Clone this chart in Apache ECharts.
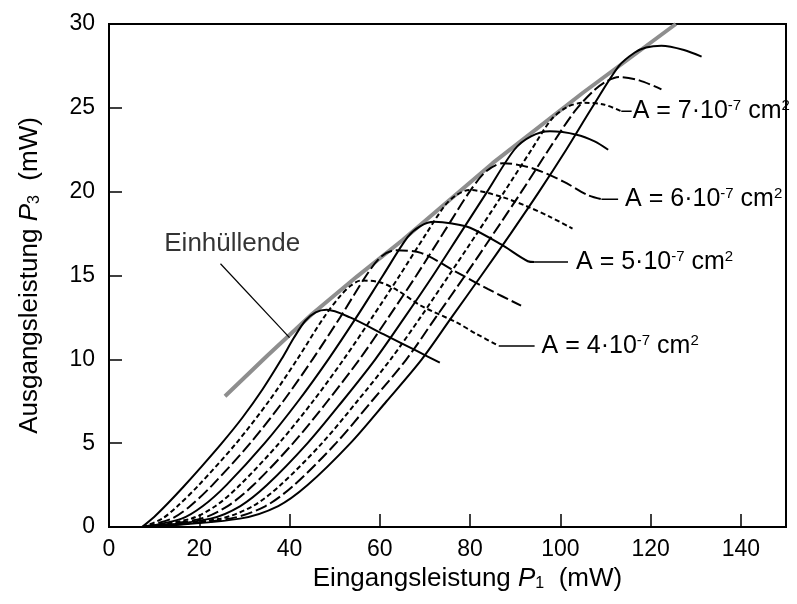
<!DOCTYPE html>
<html>
<head>
<meta charset="utf-8">
<script src="https://cdn.jsdelivr.net/npm/echarts@6/dist/echarts.min.js"></script>
<style>
  html, body { margin: 0; padding: 0; background: #fff; }
  #chart { width: 797px; height: 604px; }
</style>
</head>
<body>
<div id="chart"></div>
<script>
const FONT = '"Liberation Sans", Arial, sans-serif';

// Kennlinien, von links nach rechts (x = P1 in mW, y = P3 in mW)
const curve1 = [[7.3,0],[10,0.6],[13,1.4],[16.5,2.4],[20.5,3.6],[25,5],[29.5,6.5],[34,8.2],[38.2,10],[41,11.3],[43.5,12.3],[45.8,12.8],[48.2,12.95],[53.4,12.5],[60.8,11.5],[68.2,10.5],[73.3,9.8]];
const curve2 = [[7.4,0],[11.8,0.5],[15.2,1.25],[19.9,2.5],[28.2,5],[35.4,7.5],[41.7,10],[47.6,12.5],[51.3,13.8],[53.6,14.4],[55.8,14.7],[60,14.6],[64,14.1],[69.1,13.2],[77,12.2],[81.5,11.5],[86.4,10.8]];
const curve3 = [[7.5,0],[13.9,0.5],[18,1.25],[22.9,2.5],[31.3,5],[38.6,7.5],[45.1,10],[51.2,12.5],[57,15],[60.2,16.1],[63.2,16.5],[69.1,16.35],[77,15.2],[83.9,14.2],[91.3,13.2]];
const curve4 = [[7.6,0],[16.1,0.5],[20.8,1.25],[26,2.5],[34.5,5],[41.9,7.5],[48.6,10],[54.8,12.5],[60.7,15],[66.2,17.3],[69,17.95],[72.1,18.2],[76,18.1],[80,17.85],[86.9,16.85],[92.8,15.85],[94.3,15.8]];
const curve5 = [[7.7,0],[18.2,0.5],[23.6,1.25],[29,2.5],[37.7,5],[45.2,7.5],[52,10],[58.3,12.5],[64.4,15],[70.3,17.5],[74.5,19.2],[77,19.8],[79.8,20.1],[86.9,19.7],[92.8,19.1],[97.7,18.5],[102.7,17.8]];
const curve6 = [[7.8,0],[20.4,0.5],[26.3,1.25],[32,2.5],[40.8,5],[48.4,7.5],[55.5,10],[61.9,12.5],[68.1,15],[74,17.5],[79.9,20],[83.5,21.2],[87.3,21.7],[93.8,21.4],[100.7,20.6],[106,19.8],[109.1,19.55]];
const curve7 = [[7.9,0],[22.5,0.5],[29.1,1.25],[35,2.5],[44,5],[51.7,7.5],[59,10],[65.5,12.5],[71.8,15],[77.8,17.5],[83.8,20],[89.8,22.5],[93.5,23.3],[97.7,23.6],[103.6,23.4],[107.6,23],[110.6,22.5]];
const curve8 = [[8,0],[24.7,0.5],[31.9,1.25],[38,2.5],[47.2,5],[55,7.5],[62.4,10],[69,12.5],[75.3,15],[81.5,17.5],[87.6,20],[93.6,22.5],[98,24.3],[101.5,25.05],[105.1,25.3],[109.6,25.2],[113.5,24.8]];
const curve9 = [[8.1,0],[26.8,0.5],[34.7,1.25],[41,2.5],[50.3,5],[58.2,7.5],[65.9,10],[72.4,12.5],[78.9,15],[85.2,17.5],[91.4,20],[97.4,22.5],[103.2,24.8],[107.3,26],[110,26.55],[113,26.84],[117.5,26.64],[122.4,26.1]];
const curve10 = [[8.2,0],[29,0.5],[37.5,1.25],[44,2.5],[53.5,5],[61.5,7.5],[69.3,10],[75.9,12.5],[82.5,15],[89,17.5],[95.3,20],[101.3,22.5],[107,25],[113,27.5],[116.5,28.3],[119,28.6],[122.4,28.7],[127.4,28.45],[131.3,28.05]];

// Einhüllende (grau)
const envelope = [[25.7,7.8],[35,10.2],[45,12.7],[55,14.95],[65,17.1],[85,21.7],[105,25.9],[125.6,30]];
const envelopeLeader = [[24.7,15.7],[40,11.3]];
const envelopeText = [[27.3,16.9]];

// Beschriftungen der Flächen A
const areaValues = ['4', '5', '6', '7'];
const areaLeaders = [
  [[86.4,10.8],[94.3,10.8]],
  [[94.3,15.8],[101.7,15.8]],
  [[109.1,19.55],[112.8,19.55]],
  [[113.5,24.8],[115.8,24.8]]
];
const labelGaps = [7, 8, 7, 1];

const curves = [curve1, curve2, curve3, curve4, curve5, curve6, curve7, curve8, curve9, curve10];
const dashes = ['solid', [5, 3], [12, 4]];

const chart = echarts.init(document.getElementById('chart'));

const series = [];
series.push({
  type: 'line', data: envelope, symbol: 'none', silent: true, z: 2,
  lineStyle: { color: '#8e8e8e', width: 4 }
});
curves.forEach((d, i) => {
  series.push({
    type: 'line', data: d, symbol: 'none', smooth: 0.3, silent: true, z: 3,
    lineStyle: { color: '#000', width: 2, type: dashes[i % 3] }
  });
});
areaLeaders.forEach((d, i) => {
  series.push({
    type: 'line', data: d, symbol: 'none', silent: true, z: 4,
    lineStyle: { color: '#000', width: 1.5 },
    endLabel: {
      show: true,
      distance: labelGaps[i],
      formatter: 'A = ' + areaValues[i] + '·10{s|-7} cm{s|2}',
      fontFamily: FONT, fontSize: 25, color: '#000',
      rich: { s: { fontFamily: FONT, fontSize: 15, verticalAlign: 'top', color: '#000' } }
    }
  });
});
series.push({
  type: 'line', data: envelopeLeader, symbol: 'none', silent: true, z: 4,
  lineStyle: { color: '#000', width: 1.2 }
});
series.push({
  type: 'scatter', data: envelopeText, symbolSize: 1, silent: true, z: 5,
  itemStyle: { color: 'transparent' },
  label: {
    show: true, position: 'inside', formatter: 'Einhüllende',
    fontFamily: FONT, fontSize: 26, color: '#000'
  }
});

const axisFont = { fontFamily: FONT, fontSize: 23, color: '#000' };
const nameRich = {
  i: { fontFamily: FONT, fontSize: 26, fontStyle: 'italic', color: '#000' },
  b: { fontFamily: FONT, fontSize: 16, verticalAlign: 'bottom', color: '#000' }
};

chart.setOption({
  animation: false,
  backgroundColor: '#fff',
  grid: { left: 109, right: 11, top: 24, bottom: 77, show: true, borderColor: '#000', borderWidth: 2 },
  xAxis: {
    type: 'value', min: 0, max: 150, interval: 20,
    splitLine: { show: false },
    axisLine: { lineStyle: { color: '#000', width: 2 } },
    axisTick: { inside: true, length: 13, lineStyle: { color: '#000', width: 1.5 } },
    axisLabel: Object.assign({ margin: 11, showMaxLabel: false }, axisFont),
    name: 'Eingangsleistung {i|P}{b|1}  (mW)',
    nameLocation: 'middle', nameGap: 36,
    nameTextStyle: {
      fontFamily: FONT, fontSize: 26, color: '#000',
      padding: [0, 0, 0, 40],
      rich: nameRich
    }
  },
  yAxis: {
    type: 'value', min: 0, max: 30, interval: 5,
    splitLine: { show: false },
    axisLine: { lineStyle: { color: '#000', width: 2 } },
    axisTick: { inside: true, length: 13, lineStyle: { color: '#000', width: 1.5 } },
    axisLabel: Object.assign({ margin: 14 }, axisFont),
    name: 'Ausgangsleistung {i|P}{b|3}  (mW)',
    nameLocation: 'middle', nameGap: 66,
    nameTextStyle: {
      fontFamily: FONT, fontSize: 26, color: '#000',
      rich: nameRich
    }
  },
  series: series
});
</script>
</body>
</html>
